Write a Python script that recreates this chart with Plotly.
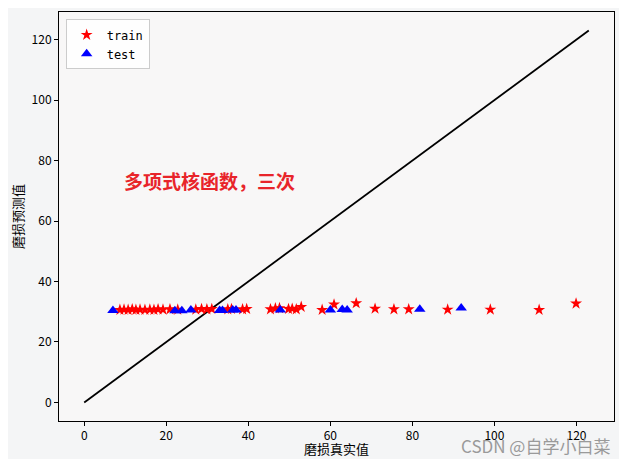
import plotly.graph_objects as go

# train: true values and predicted values
train_true = [8.7, 9.7, 10.7, 11.7, 12.6, 13.6, 14.8, 16.0, 17.0, 18.0, 19.2, 20.9, 22.8,
              27.2, 28.6, 29.9, 31.1, 35.0, 35.9, 38.6, 39.6, 45.4, 46.6, 47.6, 49.8, 50.7,
              51.7, 52.9, 58.0, 60.9, 66.3, 70.9, 75.5, 79.1, 88.6, 99.0, 110.9, 119.9]
train_pred = [30.6, 30.7, 30.6, 30.8, 30.6, 30.7, 30.6, 30.7, 30.6, 30.8, 30.7, 30.8, 30.7,
              30.7, 30.9, 30.8, 30.9, 30.8, 30.9, 30.8, 30.9, 30.8, 31.1, 31.2, 30.9, 31.0,
              30.8, 31.6, 30.6, 32.4, 32.8, 31.0, 30.8, 30.8, 30.7, 30.7, 30.6, 32.7]

# test: true values and predicted values
test_true = [7.0, 22.1, 23.8, 26.0, 33.0, 33.7, 36.2, 37.0, 47.8, 60.0, 62.9, 64.1, 81.8, 91.9]
test_pred = [30.4, 30.3, 30.3, 30.6, 30.4, 30.4, 30.6, 30.6, 30.6, 30.6, 30.7, 30.6, 30.8, 31.2]

line_xy = [0, 123]

x_ticks = [0, 20, 40, 60, 80, 100, 120]
y_ticks = [0, 20, 40, 60, 80, 100, 120]

font_cjk = "Noto Sans CJK SC"

fig = go.Figure()
fig.add_trace(go.Scatter(x=line_xy, y=line_xy, mode="lines",
                         line=dict(color="black", width=1.8), showlegend=False))
fig.add_trace(go.Scatter(x=train_true, y=train_pred, mode="markers", name="train",
                         marker=dict(symbol="star", color="red", size=9, line=dict(width=0))))
fig.add_trace(go.Scatter(x=test_true, y=test_pred, mode="markers", name="test",
                         marker=dict(symbol="triangle-up", color="blue", size=10, line=dict(width=0))))

axis_common = dict(showgrid=False, zeroline=False, showline=True, linecolor="black",
                   linewidth=1, mirror=True, ticks="outside", ticklen=4, tickcolor="black",
                   automargin=False,
                   tickfont=dict(family=font_cjk, size=12, color="black"))

fig.update_layout(
    width=611, height=451,
    margin=dict(l=51, r=5, t=4, b=38),
    paper_bgcolor="#f4f5f6",
    plot_bgcolor="#f8f7f7",
    xaxis=dict(range=[-6.15, 129.15], tickvals=x_ticks, **axis_common),
    yaxis=dict(range=[-6.15, 129.15], tickvals=y_ticks,
               title=dict(text="磨损预测值", font=dict(family=font_cjk, size=13, color="black"), standoff=6),
               **axis_common),
    legend=dict(x=0.012, y=0.982, xanchor="left", yanchor="top",
                bgcolor="rgba(255,255,255,0.8)", bordercolor="#cccccc", borderwidth=1,
                font=dict(family="DejaVu Sans Mono", size=12, color="black"),
                itemwidth=30, tracegroupgap=2),
    showlegend=True,
    annotations=[
        dict(x=0.5, y=-0.068, xref="paper", yref="paper", xanchor="center", yanchor="middle",
             text="磨损真实值", showarrow=False,
             font=dict(family=font_cjk, size=13, color="black")),
        dict(x=9.3, y=73.3, xref="x", yref="y", xanchor="left", yanchor="middle",
             text="<b>多项式核函数，三次</b>", showarrow=False,
             font=dict(family=font_cjk, size=19, color="#e8242a")),
        dict(x=0.996, y=-0.061, xref="paper", yref="paper", xanchor="right", yanchor="middle",
             text="CSDN @自学小白菜", showarrow=False,
             font=dict(family=font_cjk, size=17, color="#9a9a9a")),
    ],
)

fig.write_html("out.html")
